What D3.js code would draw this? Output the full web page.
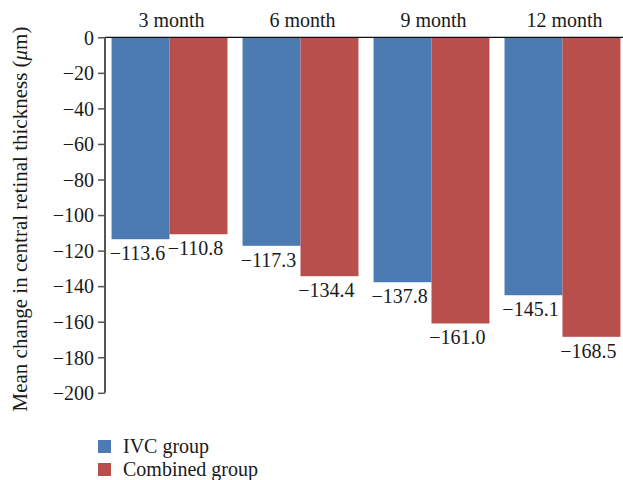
<!DOCTYPE html>
<html>
<head>
<meta charset="utf-8">
<script src="https://cdn.jsdelivr.net/npm/d3@7"></script>
<style>
  html, body { margin: 0; padding: 0; background: #fff; }
  svg { display: block; }
  text { font-family: "Liberation Serif", "Times New Roman", serif; fill: #1a1a1a; }
</style>
</head>
<body>
<svg id="chart" width="623" height="480"></svg>
<script>
// Mean change in central retinal thickness per follow-up point
const categories = ["3 month", "6 month", "9 month", "12 month"];
const seriesNames = ["IVC group", "Combined group"];
const ivcValues = [-113.6, -117.3, -137.8, -145.1];
const combinedValues = [-110.8, -134.4, -161.0, -168.5];
const yTicks = [0, -20, -40, -60, -80, -100, -120, -140, -160, -180, -200];
const colors = ["#4C7BB4", "#B84F4D"];

const svg = d3.select("#chart");
const fontSize = 20;

const y = d3.scaleLinear().domain([0, -200]).range([37.3, 392.8]);
const x0 = d3.scaleBand().domain(categories).range([105, 627])
  .paddingInner(0.115).paddingOuter(0.05);
const x1 = d3.scaleBand().domain(seriesNames).range([0, x0.bandwidth()]);

const rows = categories.map((c, i) => ({
  cat: c,
  vals: [
    { s: seriesNames[0], v: ivcValues[i] },
    { s: seriesNames[1], v: combinedValues[i] }
  ]
}));

// Bars hang down from the zero line
const g = svg.append("g");
const groups = g.selectAll("g.grp").data(rows).join("g")
  .attr("class", "grp")
  .attr("transform", d => `translate(${x0(d.cat)},0)`);

groups.selectAll("rect").data(d => d.vals).join("rect")
  .attr("x", d => x1(d.s))
  .attr("y", y(0))
  .attr("width", x1.bandwidth())
  .attr("height", d => y(d.v) - y(0))
  .attr("fill", (d, i) => colors[i]);

const fmt = v => (v < 0 ? "\u2212" : "") + Math.abs(v).toFixed(1);
groups.selectAll("text.val").data(d => d.vals).join("text")
  .attr("class", "val")
  .attr("x", d => x1(d.s) + x1.bandwidth() / 2 - 3)
  .attr("y", d => y(d.v) + 21)
  .attr("text-anchor", "middle")
  .attr("font-size", fontSize)
  .text(d => fmt(d.v));

// Category labels above the plot
svg.append("g").selectAll("text").data(categories).join("text")
  .attr("x", d => x0(d) + x0.bandwidth() / 2 + 2)
  .attr("y", 26.5)
  .attr("text-anchor", "middle")
  .attr("font-size", fontSize)
  .text(d => d);

// Zero line across the top
svg.append("line")
  .attr("x1", 105).attr("x2", 623)
  .attr("y1", y(0)).attr("y2", y(0))
  .attr("stroke", "#111").attr("stroke-width", 1.3);

// Y axis
const yAxis = d3.axisLeft(y).tickValues(yTicks).tickSize(7).tickPadding(4)
  .tickFormat(d => d === 0 ? "0" : "\u2212" + Math.abs(d));
const ya = svg.append("g").attr("transform", "translate(105,0)").call(yAxis);
ya.select(".domain").attr("stroke", "#555").attr("stroke-width", 2)
  .attr("d", `M0,${y(0)}V${y(-200)}`);
ya.selectAll(".tick line").attr("stroke", "#555").attr("stroke-width", 1.5);
ya.selectAll(".tick text")
  .attr("font-size", fontSize)
  .attr("font-family", "Liberation Serif, serif")
  .attr("fill", "#1a1a1a")
  .attr("dy", "0.34em");

// Axis title
const title = svg.append("text")
  .attr("transform", `translate(27,219) rotate(-90)`)
  .attr("text-anchor", "middle")
  .attr("font-size", 21);
title.append("tspan").text("Mean change in central retinal thickness (");
title.append("tspan").attr("font-style", "italic").text("\u03bc");
title.append("tspan").text("m)");

// Legend
const legend = svg.append("g");
seriesNames.forEach((s, i) => {
  const ly = 440 + i * 23;
  legend.append("rect").attr("x", 98).attr("y", ly)
    .attr("width", 13).attr("height", 13).attr("fill", colors[i]);
  legend.append("text").attr("x", 123).attr("y", ly + 13)
    .attr("font-size", fontSize).text(s);
});
</script>
</body>
</html>
